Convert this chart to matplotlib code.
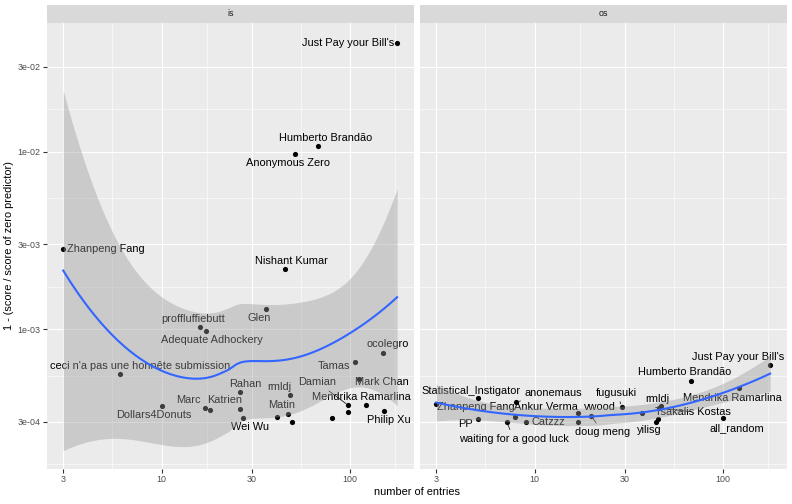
import numpy as np
import matplotlib
matplotlib.use("Agg")
import matplotlib.pyplot as plt
from matplotlib.ticker import FixedLocator, NullFormatter, FixedFormatter

plt.rcParams['font.family'] = ['Liberation Sans', 'DejaVu Sans']

# ---------------- data ----------------
facets = ["is", "os"]

is_names = ["Just Pay your Bill's", "Humberto Brandão", "Anonymous Zero", "Zhanpeng Fang",
            "Nishant Kumar", "Glen", "proffluffiebutt", "Adequate Adhockery",
            "ceci n'a pas une honnête submission", "Dollars4Donuts", "Marc", "Katrien",
            "Rahan", "", "Wei Wu", "rmldj", "Matin", "", "", "", "Damian", "",
            "Mendrika Ramarlina", "Philip Xu", "Mark Chan", "Tamas", "ocolegro"]
is_entries = [178, 68, 51, 3, 45, 36, 16, 17.1, 6.0, 10, 17, 18, 26, 26, 27.1, 48, 47,
              41, 49, 80, 98, 98, 122, 152, 112, 106, 150]
is_score = [0.0408, 0.01076, 0.0097, 0.00283, 0.00217, 0.0013, 0.00103, 0.00097,
            0.000559, 0.000371, 0.000361, 0.000349, 0.00044, 0.000354, 0.000315,
            0.000425, 0.000333, 0.000318, 0.000301, 0.000315, 0.000372, 0.000343,
            0.000372, 0.000347, 0.000524, 0.000653, 0.000734]

os_names = ["Zhanpeng Fang", "Statistical_Instigator", "PP", "waiting for a good luck",
            "anonemaus", "Ankur Verma", "Catzzz", "vwood", "", "doug meng", "fugusuki",
            "", "rmldj", "Tsakalis Kostas", "yilisg", "", "Humberto Brandão", "all_random",
            "Mendrika Ramarlina", "Just Pay your Bill's"]
os_entries = [3, 5, 5, 7.1, 8, 7.9, 9, 17, 17, 20, 29, 37, 47, 46, 44, 45, 68, 100, 122, 178]
os_score = [0.00038, 0.000409, 0.000313, 0.000301, 0.000389, 0.000321, 0.000299,
            0.000338, 0.000301, 0.000324, 0.000366, 0.000338, 0.000371, 0.00036,
            0.000301, 0.00031, 0.00051, 0.000317, 0.000468, 0.000631]

x_ticks = [3, 10, 30, 100]
x_tick_labels = ["3", "10", "30", "100"]
y_ticks = [3e-2, 1e-2, 3e-3, 1e-3, 3e-4]
y_tick_labels = ["3e-02", "1e-02", "3e-03", "1e-03", "3e-04"]
x_title = "number of entries"
y_title = "1 - (score / score of zero predictor)"

# ---------------- label layout (pixel offsets of label centre, image coords) ----------------
is_offsets = {
    "Just Pay your Bill's": (-49, 0), "Humberto Brandão": (7, -8), "Anonymous Zero": (-7, 9),
    "Zhanpeng Fang": (43, 0), "Nishant Kumar": (7, -8), "Glen": (-7, 9),
    "proffluffiebutt": (-7, -8), "Adequate Adhockery": (6, 9),
    "ceci n'a pas une honnête submission": (20, -8), "Dollars4Donuts": (-8, 9),
    "Marc": (-17, -8), "Katrien": (15, -10), "Rahan": (5, -8), "Wei Wu": (7, 9),
    "rmldj": (-11, -8), "Matin": (-7, -9), "Damian": (-31, -23),
    "Mendrika Ramarlina": (-5, -8), "Philip Xu": (5, 9), "Mark Chan": (23, 3),
    "Tamas": (-21, 4), "ocolegro": (5, -9)}
is_segments = {"Damian"}
os_offsets = {
    "Zhanpeng Fang": (40, 3), "Statistical_Instigator": (-7, -7), "PP": (-12, 5),
    "waiting for a good luck": (7, 17), "anonemaus": (37, -9), "Ankur Verma": (31, -10),
    "Catzzz": (22, 0), "vwood": (22, -6), "doug meng": (11, 16), "fugusuki": (-5, -14),
    "rmldj": (-4, -7), "Tsakalis Kostas": (33, 4), "yilisg": (-7, 8),
    "Humberto Brandão": (-7, -9), "all_random": (14, 10), "Mendrika Ramarlina": (-7, 10),
    "Just Pay your Bill's": (-32, -8)}
os_segments = {"waiting for a good luck", "anonemaus", "doug meng", "fugusuki", "Tsakalis Kostas"}

SPAN = 1.0


# ---------------- loess (degree 2) with 95% CI ----------------
def loess_rows(x, xq, span=SPAN):
    n = len(x)
    q = int(np.floor(n * span))
    rows = []
    for x0 in xq:
        d = np.abs(x - x0)
        h = np.sort(d)[q - 1]
        u = np.clip(d / h, 0, 1)
        w = (1 - u ** 3) ** 3
        X = np.vstack([np.ones(n), x - x0, (x - x0) ** 2]).T
        XtW = X.T * w
        rows.append(np.linalg.solve(XtW @ X, XtW)[0])
    return np.array(rows)


def t975(df):
    z = 1.959964
    g1 = (z ** 3 + z) / 4
    g2 = (5 * z ** 5 + 16 * z ** 3 + 3 * z) / 96
    g3 = (3 * z ** 7 + 19 * z ** 5 + 17 * z ** 3 - 15 * z) / 384
    g4 = (79 * z ** 9 + 776 * z ** 7 + 1482 * z ** 5 - 1920 * z ** 3 - 945 * z) / 92160
    return z + g1 / df + g2 / df ** 2 + g3 / df ** 3 + g4 / df ** 4


def smooth(xv, yv):
    lx = np.log10(np.asarray(xv, float))
    ly = np.log10(np.asarray(yv, float))
    n = len(lx)
    L = loess_rows(lx, lx)
    res = ly - L @ ly
    IL = np.eye(n) - L
    R = IL.T @ IL
    d1 = np.trace(R)
    d2 = np.trace(R @ R)
    s = np.sqrt(np.sum(res ** 2) / d1)
    xq = np.linspace(lx.min(), lx.max(), 80)
    Lq = loess_rows(lx, xq)
    fit = Lq @ ly
    se = s * np.sqrt(np.sum(Lq ** 2, axis=1))
    t = t975(d1 ** 2 / d2)
    return 10 ** xq, 10 ** fit, 10 ** (fit - t * se), 10 ** (fit + t * se)


# ---------------- figure ----------------
W, H = 792, 504
fig = plt.figure(figsize=(W / 100, H / 100), dpi=100)
fig.patch.set_facecolor("white")


def px_axes(l, t, r, b, **kw):
    return fig.add_axes([l / W, 1 - b / H, (r - l) / W, (b - t) / H], **kw)


xlim = (10 ** 0.391, 10 ** 2.340)
ylim = (10 ** -3.788, 10 ** -1.275)
x_minor = [np.sqrt(a * b) for a, b in zip([1] + x_ticks, x_ticks + [300])]
y_sorted = sorted(y_ticks)
y_minor = [np.sqrt(a * b) for a, b in zip([1e-4] + y_sorted, y_sorted + [1e-1])]

panels = [(47, 414, is_names, is_entries, is_score, is_offsets, is_segments),
          (420, 787, os_names, os_entries, os_score, os_offsets, os_segments)]

for i, (l, r, names, xs, ys, offs, segs) in enumerate(panels):
    ax = px_axes(l, 23, r, 469)
    ax.set_facecolor("#EBEBEB")
    ax.set_xscale("log")
    ax.set_yscale("log")
    ax.set_xlim(*xlim)
    ax.set_ylim(*ylim)
    for sp in ax.spines.values():
        sp.set_visible(False)
    ax.xaxis.set_major_locator(FixedLocator(x_ticks))
    ax.xaxis.set_major_formatter(FixedFormatter(x_tick_labels))
    ax.xaxis.set_minor_locator(FixedLocator(x_minor))
    ax.xaxis.set_minor_formatter(NullFormatter())
    ax.yaxis.set_major_locator(FixedLocator(y_ticks))
    ax.yaxis.set_major_formatter(FixedFormatter(y_tick_labels))
    ax.yaxis.set_minor_locator(FixedLocator(y_minor))
    ax.yaxis.set_minor_formatter(NullFormatter())
    ax.grid(which="major", color="white", lw=0.8)
    ax.grid(which="minor", color="white", lw=0.4)
    ax.set_axisbelow(True)
    ax.tick_params(which="major", length=2.9, width=0.8, color="#333333",
                   labelsize=6.4, labelcolor="#4D4D4D", pad=1.6)
    ax.tick_params(which="minor", length=0)
    if i == 1:
        ax.tick_params(axis="y", which="both", left=False, labelleft=False)

    ax.scatter(xs, ys, s=14, c="black", lw=0, zorder=3)
    for name, xv, yv in zip(names, xs, ys):
        if not name:
            continue
        dx, dy = offs[name]
        ap = None
        if name in segs:
            ap = dict(arrowstyle="-", color="black", lw=0.5, shrinkA=1, shrinkB=2)
        ax.annotate(name, xy=(xv, yv), xytext=(dx * 0.72, -dy * 0.72),
                    textcoords="offset points", ha="center", va="center",
                    fontsize=7.9, color="black", zorder=3, arrowprops=ap)

    xq, fit, lo, hi = smooth(xs, ys)
    ax.fill_between(xq, lo, hi, color="#999999", alpha=0.4, lw=0, zorder=4)
    ax.plot(xq, fit, color="#3366FF", lw=1.5, zorder=5)

    sax = px_axes(l, 5, r, 23)
    sax.set_facecolor("#D9D9D9")
    sax.set_xticks([])
    sax.set_yticks([])
    for sp in sax.spines.values():
        sp.set_visible(False)
    sax.text(0.5, 0.5, facets[i], ha="center", va="center", fontsize=6.4,
             color="#1A1A1A", transform=sax.transAxes)

fig.text(417 / W, 1 - 492 / H, x_title, ha="center", va="center", fontsize=7.9)
fig.text(9 / W, 1 - 246 / H, y_title, ha="center", va="center", fontsize=7.9, rotation=90)

fig.savefig("out.png", dpi=100)
